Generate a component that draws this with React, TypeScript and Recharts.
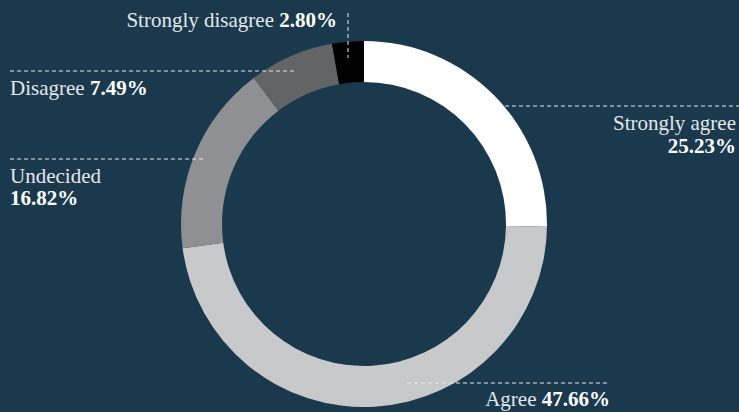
import { PieChart, Pie, Cell } from 'recharts'

const categories = ['Strongly agree', 'Agree', 'Undecided', 'Disagree', 'Strongly disagree']
const shares = [25.23, 47.66, 16.82, 7.49, 2.8]
const colors = ['#ffffff', '#c8c9cb', '#8f9093', '#636466', '#000000']

const data = categories.map((name, i) => ({ name, value: shares[i] }))

const BG = '#1a394c'
const FONT = '"Liberation Serif", "DejaVu Serif", serif'

// hand-placed callouts, one per slice (same order as categories)
const callouts = [
  { line: [505, 106, 739, 106], x: 736, y: [130, 153], anchor: 'end', split: true },
  { line: [407, 383, 610, 383], x: 610, y: [406], anchor: 'end', split: false },
  { line: [10, 159, 204, 159], x: 10, y: [183, 205], anchor: 'start', split: true },
  { line: [10, 71, 296, 71], x: 10, y: [95], anchor: 'start', split: false },
  { line: [348, 13, 348, 58], x: 337, y: [27], anchor: 'end', split: false },
]

const renderLabel = (props: any) => {
  const { index } = props
  const c = callouts[index]
  const name = categories[index]
  const pct = shares[index].toFixed(2) + '%'
  const [x1, y1, x2, y2] = c.line
  return (
    <g key={`lbl-${index}`}>
      <line x1={x1} y1={y1} x2={x2} y2={y2} stroke="#e6e9ec" strokeWidth={1} strokeDasharray="4 3" />
      {c.split ? (
        <>
          <text x={c.x} y={c.y[0]} textAnchor={c.anchor} fill="#e4e7ea" fontSize={21} fontFamily={FONT}>
            {name}
          </text>
          <text x={c.x} y={c.y[1]} textAnchor={c.anchor} fill="#ffffff" fontSize={21} fontWeight="bold" fontFamily={FONT}>
            {pct}
          </text>
        </>
      ) : (
        <text x={c.x} y={c.y[0]} textAnchor={c.anchor} fontSize={21} fontFamily={FONT}>
          <tspan fill="#e4e7ea">{name} </tspan>
          <tspan fill="#ffffff" fontWeight="bold">{pct}</tspan>
        </text>
      )}
    </g>
  )
}

export default function App() {
  return (
    <div style={{ position: 'fixed', left: 0, top: 0, width: 739, height: 412, background: BG }}>
      <PieChart width={739} height={412} margin={{ top: 0, right: 0, bottom: 0, left: 0 }}>
        <Pie
          data={data}
          dataKey="value"
          nameKey="name"
          cx={364}
          cy={224}
          innerRadius={142}
          outerRadius={183}
          startAngle={90}
          endAngle={-270}
          stroke="none"
          label={renderLabel}
          labelLine={false}
          isAnimationActive={false}
        >
          {data.map((d, i) => (
            <Cell key={d.name} fill={colors[i]} />
          ))}
        </Pie>
      </PieChart>
    </div>
  )
}
